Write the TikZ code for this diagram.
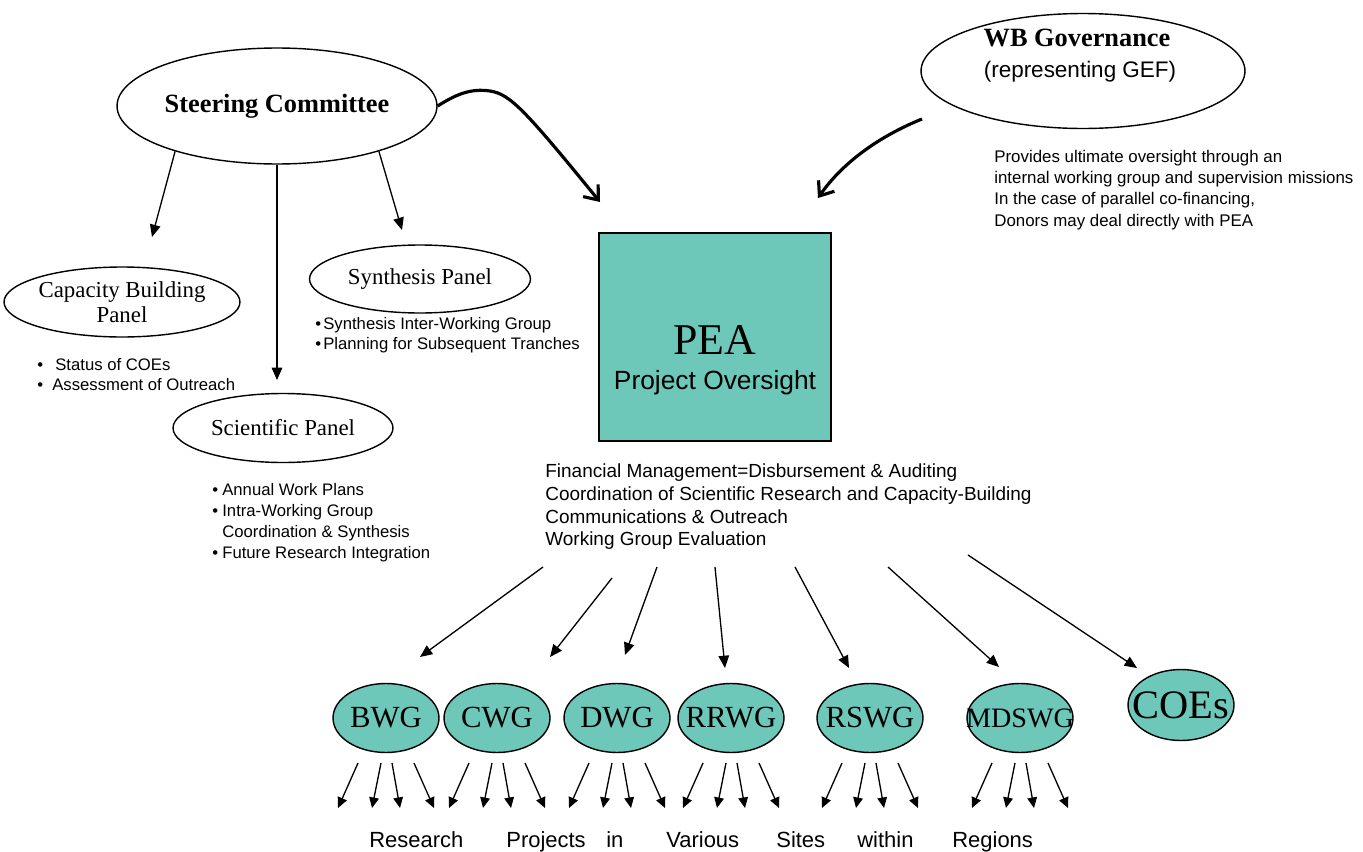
\documentclass[tikz,border=0pt]{standalone}
\usepackage{fontspec}
\setmainfont{Liberation Serif}
\setsansfont{Liberation Sans}
\usetikzlibrary{arrows.meta,shapes.geometric,calc}
\definecolor{tealfill}{RGB}{110,200,186}
\newcommand{\wglabel}[1]{\makebox[0pt]{#1}}
\begin{document}
\begin{tikzpicture}[x=0.02cm,y=-0.02cm,
  oval/.style={ellipse,draw,line width=0.8pt,inner sep=0pt},
  wg/.style={ellipse,draw,fill=tealfill,line width=0.8pt,inner sep=0pt,minimum width=2.12cm,minimum height=1.38cm,font=\fontsize{17.5}{20}\selectfont},
  thinarrow/.style={line width=0.75pt,-{Triangle[length=7pt,width=6pt]}},
  smallarrow/.style={line width=0.75pt,-{Triangle[length=6pt,width=5.5pt]}},
  thickarrow/.style={line width=1.8pt,-{Straight Barb[length=7pt,width=11pt]}},
  txt/.style={inner sep=0pt,font=\sffamily\fontsize{9.5}{11.6}\selectfont,align=left,anchor=west},
  word/.style={inner sep=0pt,font=\sffamily\fontsize{12.5}{15}\selectfont,anchor=base west},
]
\fill[white] (0,0) rectangle (1363,852);
\useasboundingbox (0,0) rectangle (1363,852);

% top ellipses
\node[oval,minimum width=6.4cm,minimum height=2.32cm,font=\bfseries\fontsize{15}{18}\selectfont] (sc) at (277,106) {Steering Committee};
\node[oval,minimum width=6.48cm,minimum height=2.3cm] (wb) at (1083,71) {};
\node[inner sep=0pt,font=\bfseries\fontsize{15}{18}\selectfont] (wbt) at (1077,38) {WB Governance};
\node[inner sep=0pt,font=\sffamily\fontsize{12.8}{15}\selectfont] (wbs) at (1080,72) {(representing GEF)};

% panels
\node[oval,minimum width=4.4cm,minimum height=1.4cm,align=center,font=\fontsize{13}{14.2}\selectfont] (cb) at (122,302) {Capacity Building\\Panel};
\node[oval,minimum width=4.42cm,minimum height=1.36cm,font=\fontsize{13}{15}\selectfont] (sy) at (420,279) {Synthesis Panel};
\node[oval,minimum width=4.4cm,minimum height=1.38cm,font=\fontsize{13}{15}\selectfont] (sp) at (283,428) {Scientific Panel};

% PEA box
\node[draw,fill=tealfill,line width=0.8pt,minimum width=4.64cm,minimum height=4.16cm,inner sep=0pt] (pea) at (715,337) {};
\node[inner sep=0pt,font=\fontsize{25}{28}\selectfont] (peat) at (715,340) {PEA};
\node[inner sep=0pt,font=\sffamily\fontsize{15}{18}\selectfont] (peas) at (715,383) {Project Oversight};

% text blocks
\node[txt,font=\sffamily\fontsize{9.5}{11.4}\selectfont] (cbl) at (37,375) {\makebox[0.36cm][l]{•}Status of COEs\\\makebox[0.3cm][l]{•}Assessment of Outreach};
\node[txt,font=\sffamily\fontsize{9.5}{11.4}\selectfont] (syl) at (315,335) {\makebox[0.16cm][l]{•}Synthesis Inter-Working Group\\\makebox[0.16cm][l]{•}Planning for Subsequent Tranches};
\node[txt,font=\sffamily\fontsize{9.5}{11.9}\selectfont] (spl) at (212,523) {\makebox[0.2cm][l]{•}Annual Work Plans\\\makebox[0.2cm][l]{•}Intra-Working Group\\\hspace*{0.2cm}Coordination \& Synthesis\\\makebox[0.2cm][l]{•}Future Research Integration};
\node[txt,font=\sffamily\fontsize{9.6}{12.1}\selectfont] (wbd) at (994,190) {Provides ultimate oversight through an\\internal working group and supervision missions\\In the case of parallel co-financing,\\Donors may deal directly with PEA};
\node[txt,font=\sffamily\fontsize{10.8}{12.9}\selectfont] (fin) at (545,507) {Financial Management=Disbursement \& Auditing\\Coordination of Scientific Research and Capacity-Building\\Communications \& Outreach\\Working Group Evaluation};

% working groups
\node[wg] (bwg) at (386,718) {\wglabel{BWG}};
\node[wg] (cwg) at (497,718) {\wglabel{CWG}};
\node[wg] (dwg) at (617,718) {\wglabel{DWG}};
\node[wg] (rrwg) at (731,718) {\wglabel{RRWG}};
\node[wg] (rswg) at (870,718) {\wglabel{RSWG}};
\node[wg,font=\fontsize{16}{18}\selectfont] (mdswg) at (1020,718) {\wglabel{MDSWG}};
\node[wg,minimum height=1.42cm,font=\fontsize{23}{26}\selectfont] (coe) at (1181,705) {\wglabel{COEs}};

% bottom words
\node[word] (w1) at (369,847) {Research};
\node[word] (w2) at (506,847) {Projects};
\node[word] (w3) at (606,847) {in};
\node[word] (w4) at (666,847) {Various};
\node[word] (w5) at (776,847) {Sites};
\node[word] (w6) at (857,847) {within};
\node[word] (w7) at (952,847) {Regions};

% steering arrows
\coordinate (t1) at (152,237);
\coordinate (t2) at (277,380);
\coordinate (t3) at (402,230);
\coordinate (t4) at (600,202);
\draw[thinarrow] (sc.204) -- (t1);
\draw[thinarrow] (sc.south) -- (t2);
\draw[thinarrow] (sc.-24) -- (t3);
\draw[thickarrow] (sc.east) .. controls (455,95) and (470,88) .. (490,91) .. controls (510,94) and (525,110) .. (t4);

% WB arrow
\coordinate (wbs0) at (922,119);
\coordinate (t5) at (818,198);
\draw[thickarrow] (wbs0) .. controls (880,136) and (843,162) .. (t5);

% PEA to working groups
\coordinate (a1) at (543,567); \coordinate (b1) at (420,657);
\coordinate (a2) at (612,578); \coordinate (b2) at (550,657);
\coordinate (a3) at (657,567); \coordinate (b3) at (625,655);
\coordinate (a4) at (715,567); \coordinate (b4) at (725,668);
\coordinate (a5) at (795,567); \coordinate (b5) at (849,668);
\coordinate (a6) at (888,567); \coordinate (b6) at (999,667);
\coordinate (a7) at (968,555); \coordinate (b7) at (1137,668);
\foreach \i in {1,...,7} {\draw[thinarrow] (a\i) -- (b\i);}

% small arrows under working groups
\foreach \n in {bwg,cwg,dwg,rrwg,rswg,mdswg} {
  \foreach \a/\b in {-28/-48,-5/-14,6/14,28/48} {
    \draw[smallarrow] ($(\n)+(\a,45)$) -- ($(\n)+(\b,90)$);
  }
}
\end{tikzpicture}
\end{document}
